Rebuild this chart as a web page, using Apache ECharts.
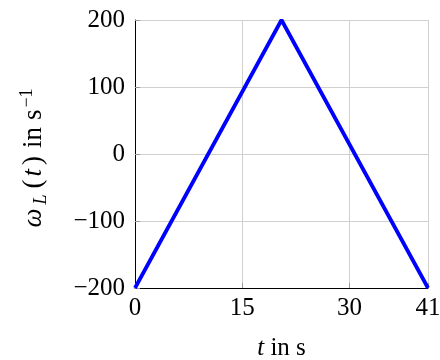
<!DOCTYPE html>
<html>
<head>
<meta charset="utf-8">
<script src="https://cdn.jsdelivr.net/npm/echarts@6/dist/echarts.min.js"></script>
<style>
  html, body { margin: 0; padding: 0; background: #fff; }
  #chart { width: 440px; height: 360px; }
</style>
</head>
<body>
<div id="chart"></div>
<script>
// Speed profile: linear ramp up to the peak, then linear ramp down
const timeSeconds = [0, 20.5, 41];
const omegaValues = [-200, 200, -200];
const xTicks = [0, 15, 30, 41];
const yTicks = [-200, -100, 0, 100, 200];

const FONT = 'Liberation Serif, Times New Roman, Times, serif';
const FS = 25;
const NFS = 27;   // axis-name font size
const SFS = 18;   // sub/superscript font size

const chart = echarts.init(document.getElementById('chart'), null, { renderer: 'canvas' });

function tok(extra) {
  return Object.assign({ fontFamily: FONT, fontSize: NFS, color: '#000', lineHeight: 32 }, extra);
}

chart.setOption({
  animation: false,
  backgroundColor: '#ffffff',
  grid: { left: 135, right: 12, top: 20, bottom: 72, containLabel: false, outerBoundsMode: 'none' },
  xAxis: {
    type: 'value',
    min: xTicks[0],
    max: xTicks[xTicks.length - 1],
    interval: xTicks[1] - xTicks[0],
    name: '{i|t}{n| in s}',
    nameLocation: 'middle',
    nameGap: 48,
    nameTextStyle: {
      fontFamily: FONT, fontSize: FS, color: '#000',
      rich: {
        i: { fontFamily: FONT, fontSize: FS, fontStyle: 'italic', color: '#000' },
        n: { fontFamily: FONT, fontSize: FS, color: '#000' }
      }
    },
    axisLine: { show: true, onZero: false, lineStyle: { color: '#000', width: 1 } },
    axisTick: { show: true, inside: true, length: 5, lineStyle: { color: '#999' } },
    axisLabel: { fontFamily: FONT, fontSize: FS, color: '#000', margin: 8 },
    splitLine: { show: true, lineStyle: { color: '#d0d0d0', width: 1 } }
  },
  yAxis: {
    type: 'value',
    min: yTicks[0],
    max: yTicks[yTicks.length - 1],
    interval: yTicks[1] - yTicks[0],
    name: '{w|ω}{sub|L}{lp|(}{t|t}{rp|)}{n|in}{s|s}{sup|−1}',
    nameLocation: 'middle',
    nameRotate: 90,
    nameGap: 85,
    nameTextStyle: {
      fontFamily: FONT, fontSize: NFS, color: '#000',
      rich: {
        w: tok({ fontStyle: 'italic', padding: [0, 4, 0, 0] }),
        sub: { fontFamily: FONT, fontSize: SFS, fontStyle: 'italic', color: '#000', lineHeight: SFS, verticalAlign: 'bottom', padding: [0, 6, 0, 0] },
        lp: tok({ padding: [0, 3, 0, 0] }),
        t: tok({ fontStyle: 'italic', padding: [0, 4, 0, 0] }),
        rp: tok({ padding: [0, 8, 0, 0] }),
        n: tok({ padding: [0, 7, 0, 0] }),
        s: tok({ padding: [0, 2, 0, 0] }),
        sup: { fontFamily: FONT, fontSize: SFS, color: '#000', lineHeight: SFS, verticalAlign: 'top', padding: [0, 8, 0, 0] }
      }
    },
    axisLine: { show: true, onZero: false, lineStyle: { color: '#000', width: 1 } },
    axisTick: { show: true, inside: true, length: 5, lineStyle: { color: '#999' } },
    axisLabel: {
      fontFamily: FONT, fontSize: FS, color: '#000', margin: 10,
      formatter: v => (v < 0 ? '−' + Math.abs(v) : String(v))
    },
    splitLine: { show: true, lineStyle: { color: '#d0d0d0', width: 1 } }
  },
  series: [{
    type: 'line',
    data: timeSeconds.map((t, i) => [t, omegaValues[i]]),
    showSymbol: false,
    lineStyle: { color: '#0000ff', width: 3.8 },
    clip: false
  }]
});
</script>
</body>
</html>
